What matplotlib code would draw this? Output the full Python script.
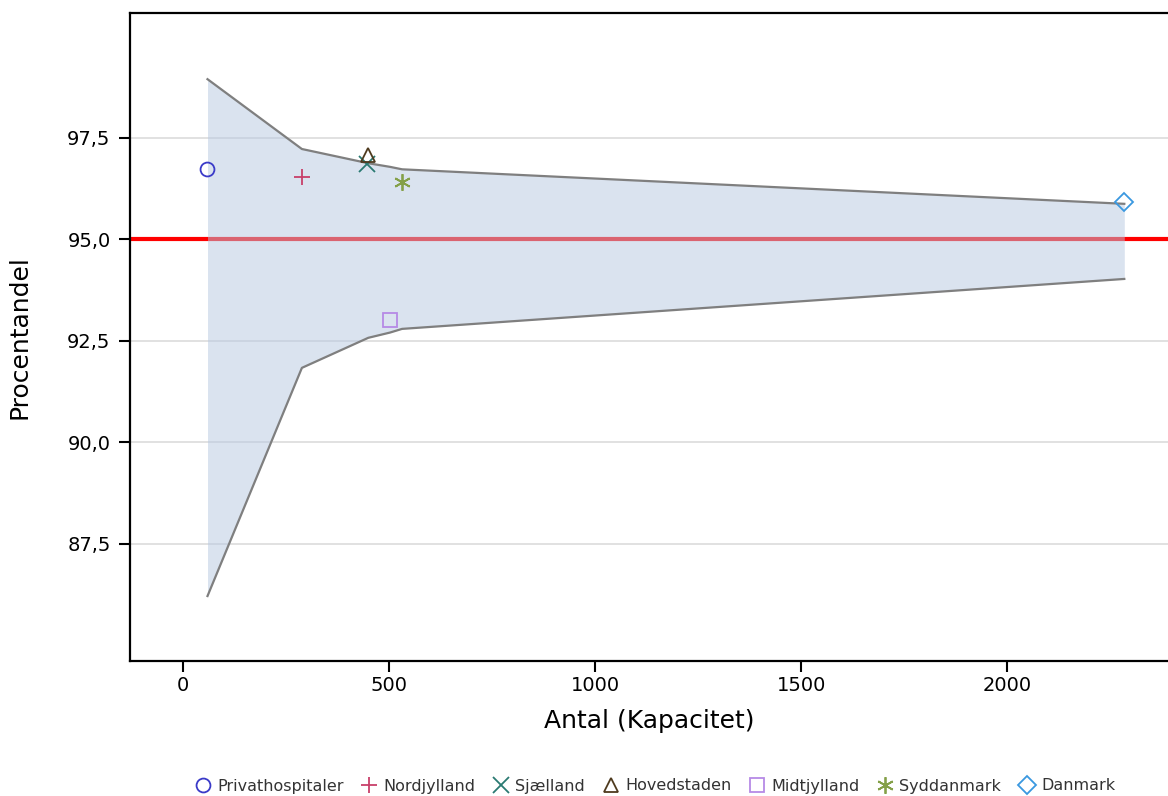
import numpy as np
import matplotlib
matplotlib.use('Agg')
import matplotlib.pyplot as plt
from matplotlib.ticker import FuncFormatter

# units: name, count (x), percentage (y)
units = ['Privathospitaler', 'Nordjylland', 'Sjælland', 'Hovedstaden',
         'Midtjylland', 'Syddanmark', 'Danmark']
antal = [60, 289, 448, 450, 503, 532, 2284]
procent = [96.72, 96.53, 96.85, 97.07, 93.0, 96.41, 95.92]

# funnel limits
band_x = [60, 289, 450, 503, 532, 2284]
band_upper = [98.94, 97.22, 96.87, 96.78, 96.72, 95.87]
band_lower = [86.21, 91.83, 92.57, 92.70, 92.79, 94.02]

target = 95.0

markers = ['o', '+', 'x', '^', 's', (6, 2, 0), 'D']
colors = ['#3a3ac8', '#c8406a', '#2a7a72', '#4e3a1e', '#b68ae6', '#84a048', '#3a98e0']
sizes = [10, 11, 11, 10, 10, 12, 9]

fig = plt.figure(figsize=(11.68, 7.96), dpi=100)
ax = fig.add_axes([130 / 1168, 1 - 661 / 796, 1 - 130 / 1168, (661 - 13) / 796])

ax.set_xlim(-128, 2390)
ax.set_ylim(84.61, 100.57)

ax.yaxis.grid(True, color='#dcdcdc', linewidth=1.2, zorder=0)
ax.set_axisbelow(True)

ax.axhline(target, color='#ff0000', linewidth=3, zorder=1)
ax.fill_between(band_x, band_lower, band_upper, color='#b7c8e1', alpha=0.5,
                linewidth=0, zorder=2)
ax.plot(band_x, band_upper, color='#7f7f7f', linewidth=1.6, zorder=3)
ax.plot(band_x, band_lower, color='#7f7f7f', linewidth=1.6, zorder=3)

for name, x, y, m, c, s in zip(units, antal, procent, markers, colors, sizes):
    ax.plot(x, y, linestyle='none', marker=m, markersize=s, markerfacecolor='none',
            markeredgecolor=c, markeredgewidth=1.3, label=name, zorder=4)

ax.set_xticks([0, 500, 1000, 1500, 2000])
ax.set_yticks([87.5, 90.0, 92.5, 95.0, 97.5])
ax.yaxis.set_major_formatter(FuncFormatter(lambda v, p: f'{v:.1f}'.replace('.', ',')))
ax.tick_params(axis='both', direction='out', length=8, width=1.5, labelsize=14,
               colors='black')
ax.tick_params(axis='x', pad=3)
ax.tick_params(axis='y', pad=6)

for side in ['left', 'bottom', 'top']:
    ax.spines[side].set_linewidth(1.6)
ax.spines['right'].set_visible(False)

ax.set_xlabel('Antal (Kapacitet)', fontsize=18, labelpad=10)
ax.set_ylabel('Procentandel', fontsize=18, labelpad=26)

leg = fig.legend(loc='center', bbox_to_anchor=(0.56, 1 - 786 / 796), ncol=7, frameon=False,
                 fontsize=11.5, handletextpad=0.3, columnspacing=1.0, handlelength=1.2)
for t in leg.get_texts():
    t.set_color('#333333')

fig.savefig('out.png', dpi=100)
